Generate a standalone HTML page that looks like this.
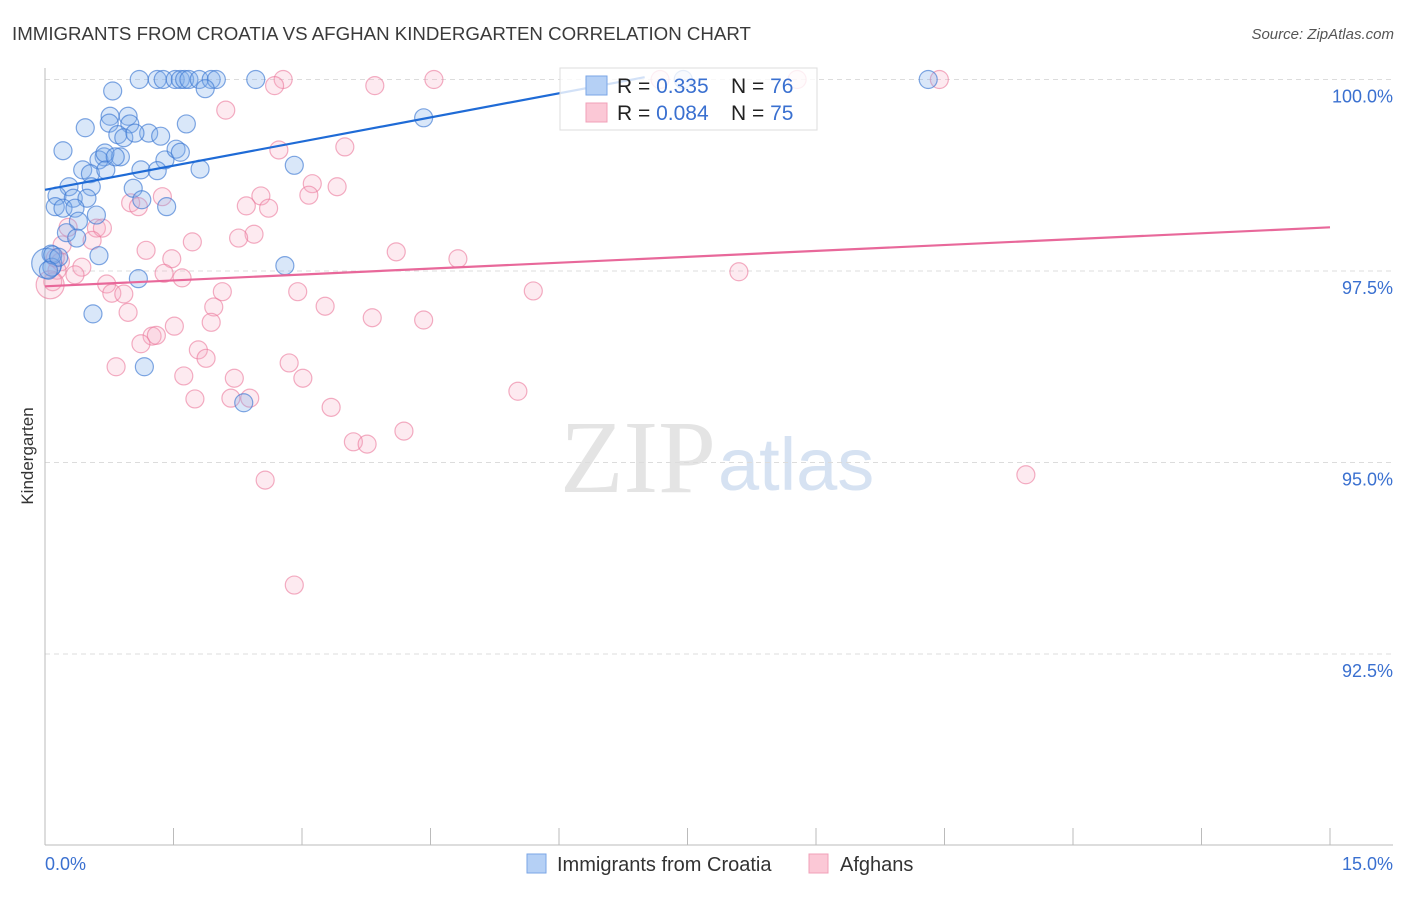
<!DOCTYPE html>
<html><head><meta charset="utf-8"><style>
body{margin:0;background:#fff;font-family:"Liberation Sans",sans-serif}
</style></head><body>
<svg width="1406" height="892" xmlns="http://www.w3.org/2000/svg" font-family="Liberation Sans, sans-serif">
<text x="12" y="40" font-size="18.7" fill="#3a3a3a">IMMIGRANTS FROM CROATIA VS AFGHAN KINDERGARTEN CORRELATION CHART</text>
<text x="1394" y="39" font-size="15" fill="#555" text-anchor="end" font-style="italic">Source: ZipAtlas.com</text>
<text x="716" y="492" font-size="104" fill="#e4e4e4" text-anchor="end" font-family="Liberation Serif, serif">ZIP</text>
<text x="718" y="490" font-size="74" fill="#d6e2f2">atlas</text>
<g id="grid"></g>
<g id="axes"></g>
<g id="pts"></g>
<g id="lines"></g>
<text transform="translate(33,456) rotate(-90)" font-size="17" fill="#333" text-anchor="middle">Kindergarten</text>
<g>
<rect x="560" y="68" width="257" height="62" fill="rgba(255,255,255,0.8)" stroke="#ddd"/>
<rect x="586" y="76" width="21" height="19" fill="#b5d0f5" stroke="#7aa6e6"/>
<rect x="586" y="103" width="21" height="19" fill="#fbc8d6" stroke="#f0a0b8"/>
<text x="617" y="93" font-size="21" fill="#222">R = <tspan fill="#3a70d0">0.335</tspan></text>
<text x="731" y="93" font-size="21" fill="#222">N = <tspan fill="#3a70d0">76</tspan></text>
<text x="617" y="120" font-size="21" fill="#222">R = <tspan fill="#3a70d0">0.084</tspan></text>
<text x="731" y="120" font-size="21" fill="#222">N = <tspan fill="#3a70d0">75</tspan></text>
</g>
<g>
<rect x="527" y="854" width="19" height="19" fill="#b5d0f5" stroke="#7aa6e6"/>
<text x="557" y="871" font-size="20" fill="#333">Immigrants from Croatia</text>
<rect x="809" y="854" width="19" height="19" fill="#fbc8d6" stroke="#f0a0b8"/>
<text x="840" y="871" font-size="20" fill="#333">Afghans</text>
</g>
</svg>
<script>
const blueX=[1.10,1.31,1.38,1.52,1.58,1.63,1.68,1.80,1.94,2.00,2.46,10.31,7.45,1.87,0.79,0.76,0.97,0.75,0.99,0.47,1.65,4.42,0.85,1.21,1.35,0.92,1.05,0.21,0.69,0.88,0.63,1.40,1.53,1.58,2.91,0.44,0.53,0.71,1.12,1.31,1.81,1.03,0.28,0.54,0.14,0.33,0.49,1.13,1.42,0.12,0.21,0.35,0.60,0.39,0.25,0.37,0.07,0.63,0.02,0.08,2.80,1.09,0.56,1.16,2.32,0.70,0.82,0.09,0.16,0.04];
const blueY=[100,100,100,100,100,100,100,100,100,100,100,100,100,99.88,99.85,99.52,99.52,99.43,99.42,99.37,99.42,99.50,99.28,99.30,99.26,99.24,99.30,99.07,98.99,98.99,98.95,98.95,99.09,99.05,98.88,98.82,98.77,98.82,98.82,98.81,98.83,98.58,98.60,98.60,98.48,98.45,98.45,98.43,98.34,98.34,98.32,98.32,98.23,98.15,98.00,97.93,97.72,97.70,97.60,97.55,97.57,97.40,96.94,96.25,95.78,99.04,98.99,97.71,97.68,97.51];
const pinkX=[2.78,4.54,7.18,8.78,10.44,2.68,3.85,2.11,2.73,3.50,3.12,3.41,3.08,2.52,2.35,2.61,1.00,1.09,1.37,0.60,0.67,2.44,2.26,0.27,1.72,0.55,1.18,4.10,4.82,1.48,8.10,0.18,0.14,0.09,0.43,0.35,0.72,1.60,1.39,0.78,0.92,2.07,2.95,5.70,3.27,1.97,0.97,1.94,1.51,3.82,4.42,1.25,1.30,1.12,1.79,1.88,2.85,0.83,1.62,3.01,2.21,5.52,1.75,2.17,2.39,3.34,3.60,3.76,4.19,2.57,11.45,2.91,0.06,0.20,0.12];
const pinkY=[100,100,100,100,100,99.92,99.92,99.60,99.08,99.12,98.64,98.60,98.49,98.48,98.35,98.32,98.39,98.34,98.47,98.06,98.06,97.98,97.93,98.07,97.88,97.90,97.77,97.75,97.66,97.66,97.49,97.62,97.51,97.36,97.55,97.45,97.33,97.41,97.47,97.21,97.20,97.23,97.23,97.24,97.04,97.03,96.96,96.83,96.78,96.89,96.86,96.65,96.66,96.55,96.47,96.36,96.30,96.25,96.13,96.10,96.10,95.93,95.83,95.84,95.84,95.72,95.27,95.24,95.41,94.77,94.84,93.40,97.32,97.84,97.67];
const yTicks=[100,97.5,95,92.5];
const yTickLabels=["100.0%","97.5%","95.0%","92.5%"];
const blueTrend=[[0,98.56],[7.0,100.03]];
const pinkTrend=[[0,97.30],[15,98.07]];
const NS="http://www.w3.org/2000/svg";
const X=v=>45+v/15*1285;
const Y=v=>79.5+(100-v)/2.5*191.5;
function mk(tag,attrs,parent){const e=document.createElementNS(NS,tag);for(const k in attrs)e.setAttribute(k,attrs[k]);document.getElementById(parent).appendChild(e);return e;}
yTicks.forEach((t,i)=>{
  const l=mk('line',{x1:45,x2:1393,y1:Y(t),y2:Y(t),stroke:'#dcdcdc','stroke-dasharray':'5,4'},'grid');
  
  
  const tx=mk('text',{x:1393,y:Y(t)+23,'font-size':18,fill:'#3a70d0','text-anchor':'end'},'grid');
  tx.textContent=yTickLabels[i];
  
  
});
const ya=mk('line',{x1:45,x2:45,y1:68,y2:845,stroke:'#bbb'},'axes');


const xa=mk('line',{x1:45,x2:1393,y1:845,y2:845,stroke:'#bbb'},'axes');


for(let i=0;i<=10;i++){
  const t=mk('line',{x1:X(i*1.5),x2:X(i*1.5),y1:828,y2:845,stroke:'#bbb'},'axes');
  
  
}
const xl0=mk('text',{x:45,y:870,'font-size':18,fill:'#3a70d0'},'axes');xl0.textContent='0.0%';


const xl1=mk('text',{x:1393,y:870,'font-size':18,fill:'#3a70d0','text-anchor':'end'},'axes');xl1.textContent='15.0%';


pinkX.forEach((x,i)=>{
  const c=mk('circle',{cx:X(x),cy:Y(pinkY[i]),r:i===72?14:9,fill:'rgba(248,170,195,0.25)',stroke:'rgba(235,120,155,0.6)','stroke-width':1.2},'pts');
  
  
});
blueX.forEach((x,i)=>{
  const c=mk('circle',{cx:X(x),cy:Y(blueY[i]),r:i===58?15:9,fill:'rgba(130,175,235,0.3)',stroke:'rgba(60,120,210,0.65)','stroke-width':1.2},'pts');
  
  
});
const bl=mk('line',{x1:X(blueTrend[0][0]),y1:Y(blueTrend[0][1]),x2:X(blueTrend[1][0]),y2:Y(blueTrend[1][1]),stroke:'#1f6bd6','stroke-width':2.2},'lines');


const pl=mk('line',{x1:X(pinkTrend[0][0]),y1:Y(pinkTrend[0][1]),x2:X(pinkTrend[1][0]),y2:Y(pinkTrend[1][1]),stroke:'#e8689a','stroke-width':2.2},'lines');


</script>
</body></html>
